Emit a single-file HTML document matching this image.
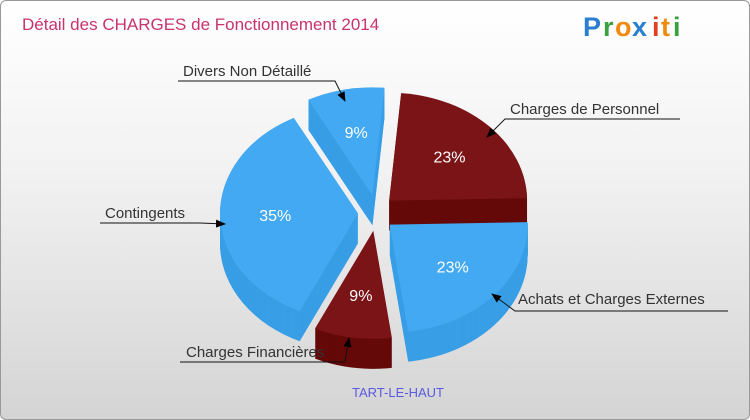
<!DOCTYPE html>
<html><head><meta charset="utf-8"><style>
html,body{margin:0;padding:0;width:750px;height:420px;overflow:hidden;background:#fff}
#c{position:absolute;left:0;top:0;width:748px;height:418px;border:1px solid #999;border-radius:6px;background:linear-gradient(#ffffff,#f2f2f2 40%,#d4d4d4)}
svg{position:absolute;left:0;top:0}
text{font-family:"Liberation Sans",sans-serif}
</style></head><body>
<div id="c"></div>
<svg id="s" width="750" height="420">
<defs><marker id="ar" markerWidth="10" markerHeight="8" refX="9" refY="4" orient="auto"><path d="M0,0L10,4L0,8z" fill="#000"/></marker></defs>
<text x="22" y="30" font-size="17" fill="#c8336e">Détail des CHARGES de Fonctionnement 2014</text>
<g font-size="27" font-weight="bold">
<text x="583" y="36" fill="#2a7fd0">P</text><text x="603" y="36" fill="#3aa040">r</text><text x="615" y="36" fill="#f08a10">o</text><text x="632" y="36" fill="#2a7fd0">x</text><text x="652" y="36" fill="#e04020">i</text><text x="661" y="36" fill="#f08a10">t</text><text x="673" y="36" fill="#3aa040">i</text>
</g>
<g id="pie"></g>
<g id="lab"></g>
<text x="398" y="397" font-size="13" fill="#5a5ae0" text-anchor="middle">TART-LE-HAUT</text>
</svg>
<script>
const categories=["Charges de Personnel","Achats et Charges Externes","Charges Financières","Contingents","Divers Non Détaillé"];
const values=[23,23,9,35,9];
const colorsTop=["#7a1416","#42a9f2","#7a1416","#42a9f2","#42a9f2"];
const colorsSide=["#650808","#389ee6","#650808","#389ee6","#389ee6"];
const NS="http://www.w3.org/2000/svg";
const cx=376,cy=213,rx=138,ry=108,depth=30,ex=18,startDeg=5;
const total=values.reduce((a,b)=>a+b,0);
const pie=document.getElementById('pie');
function pt(x0,y0,t){return [x0+rx*Math.sin(t),y0-ry*Math.cos(t)];}
function path(x0,y0,a0,a1){
 const p0=pt(x0,y0,a0),p1=pt(x0,y0,a1);const lg=(a1-a0)>Math.PI?1:0;
 return `M${x0},${y0}L${p0[0]},${p0[1]}A${rx},${ry} 0 ${lg} 1 ${p1[0]},${p1[1]}Z`;
}
let a=startDeg*Math.PI/180;const sl=[];
values.forEach((v,i)=>{const a0=a,a1=a+v/total*2*Math.PI;a=a1;const m=(a0+a1)/2;
 sl.push({i,a0,a1,m,ox:cx+ex*Math.sin(m),oy:cy-ex*Math.cos(m)});});
const order=sl.slice().sort((p,q)=>(-Math.cos(p.m))-(-Math.cos(q.m)));
order.forEach(s=>{
 const g=document.createElementNS(NS,'g');
 
 
 for(let d=depth;d>=1;d-=1){const p=document.createElementNS(NS,'path');
  p.setAttribute('d',path(s.ox,s.oy+d,s.a0,s.a1));p.setAttribute('fill',colorsSide[s.i]);g.appendChild(p);}
 pie.appendChild(g);s.g=g;
});
order.forEach(s=>{const p=document.createElementNS(NS,'path');
 p.setAttribute('d',path(s.ox,s.oy,s.a0,s.a1));p.setAttribute('fill',colorsTop[s.i]);s.g.appendChild(p);
});
sl.forEach(s=>{const t=document.createElementNS(NS,'text');
 const r=0.6;t.setAttribute('x',s.ox+rx*r*Math.sin(s.m));t.setAttribute('y',s.oy-ry*r*Math.cos(s.m)+6);
 t.setAttribute('text-anchor','middle');t.setAttribute('font-size','16');t.setAttribute('fill','#fff');
 
 
 t.textContent=values[s.i]+'%';pie.appendChild(t);});
const lab=document.getElementById('lab');
const leaders=[
 {i:0,tx:510,ty:114,pts:"680,119 505,119 487,137"},
 {i:1,tx:518,ty:304,pts:"728,311 515,311 492,294"},
 {i:2,tx:186,ty:357,pts:"180,362 345,362 349,338"},
 {i:3,tx:105,ty:218,pts:"100,223 200,223 225,224"},
 {i:4,tx:183,ty:76,pts:"178,81 335,81 345,101"}];
leaders.forEach(l=>{
 const pl=document.createElementNS(NS,'polyline');pl.setAttribute('points',l.pts);pl.setAttribute('fill','none');
 pl.setAttribute('stroke','#111');pl.setAttribute('marker-end','url(#ar)');
 
 
 lab.appendChild(pl);
 const t=document.createElementNS(NS,'text');t.setAttribute('x',l.tx);t.setAttribute('y',l.ty);
 t.setAttribute('font-size','15');t.setAttribute('fill','#333');
 
 
 t.textContent=categories[l.i];lab.appendChild(t);});
</script>
</body></html>
